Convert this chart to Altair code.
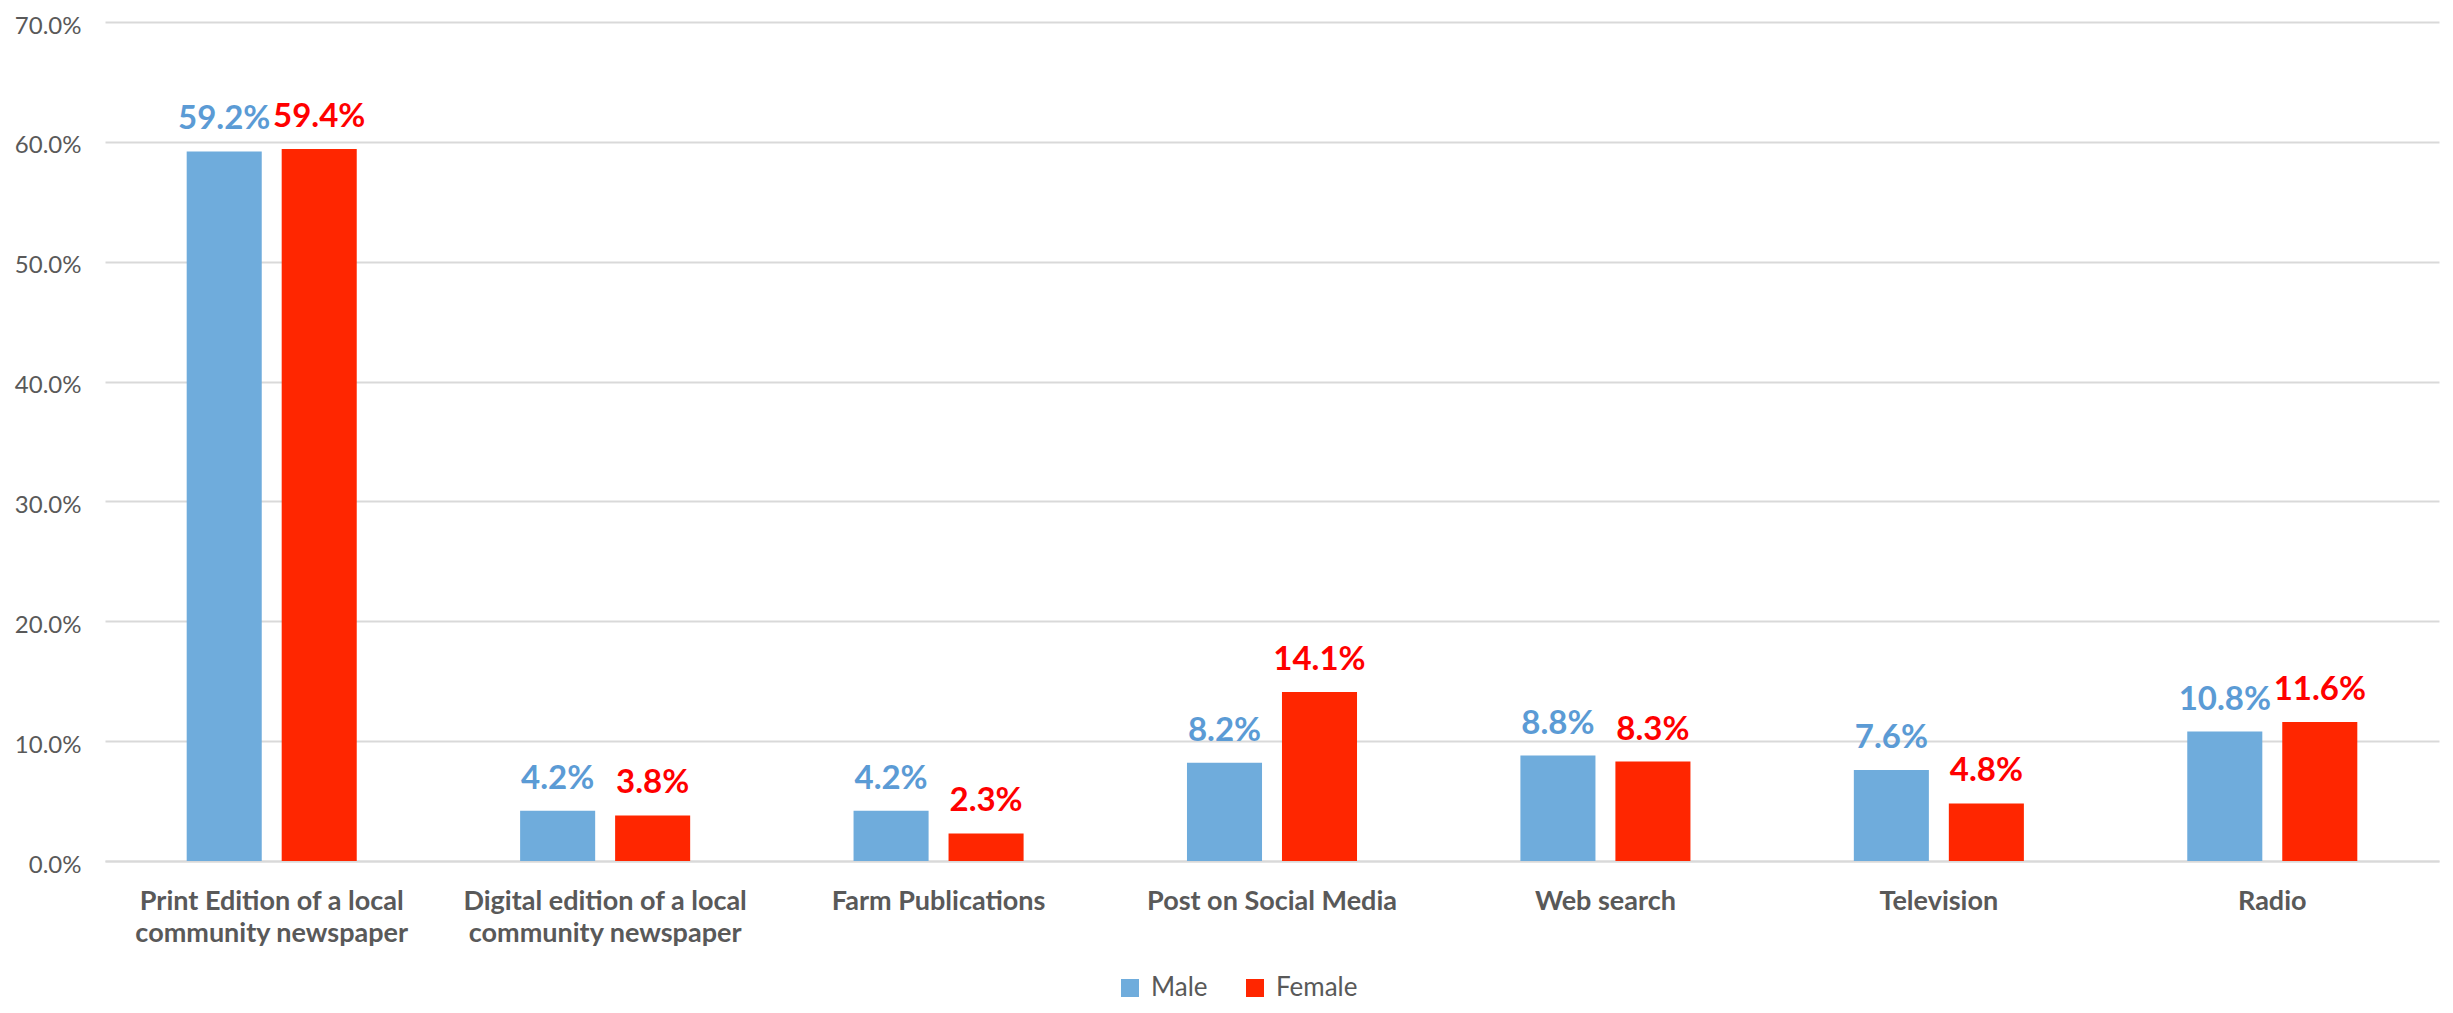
import altair as alt
import pandas as pd

categories = [
    "Print Edition of a local|community newspaper",
    "Digital edition of a local|community newspaper",
    "Farm Publications",
    "Post on Social Media",
    "Web search",
    "Television",
    "Radio",
]
male = [59.2, 4.2, 4.2, 8.2, 8.8, 7.6, 10.8]
female = [59.4, 3.8, 2.3, 14.1, 8.3, 4.8, 11.6]
genders = ["Male", "Female"]
y_ticks = [0, 0.1, 0.2, 0.3, 0.4, 0.5, 0.6, 0.7]

rows = []
for c, m, f in zip(categories, male, female):
    rows.append({"category": c, "gender": "Male", "value": m / 100})
    rows.append({"category": c, "gender": "Female", "value": f / 100})
df = pd.DataFrame(rows)

FONT = "Lato"
GRAY = "#595959"

x_enc = alt.X(
    "category:N",
    sort=categories,
    scale=alt.Scale(paddingInner=0.49, paddingOuter=0.245),
    axis=alt.Axis(
        title=None,
        labelExpr="split(datum.label, '|')",
        labelAngle=0,
        labelFont=FONT,
        labelFontSize=27,
        labelFontWeight="bold",
        labelColor=GRAY,
        labelLineHeight=32,
        labelPadding=27,
        ticks=False,
        domainColor="#D9D9D9",
        domainWidth=2,
        labelLimit=400,
    ),
)
xoff = alt.XOffset(
    "gender:N", sort=genders, scale=alt.Scale(paddingInner=0.21, paddingOuter=0)
)
y_enc = alt.Y(
    "value:Q",
    scale=alt.Scale(domain=[0, 0.7], nice=False),
    axis=alt.Axis(
        title=None,
        values=y_ticks,
        format=".1%",
        labelFont=FONT,
        labelFontSize=24,
        labelColor=GRAY,
        labelPadding=24,
        labelOffset=4,
        ticks=False,
        domain=False,
        gridColor="#D9D9D9",
        gridWidth=2,
    ),
)

bars = alt.Chart(df).mark_bar().encode(
    x=x_enc,
    xOffset=xoff,
    y=y_enc,
    color=alt.Color(
        "gender:N",
        sort=genders,
        scale=alt.Scale(domain=genders, range=["#6FACDC", "#FF2600"]),
        legend=alt.Legend(
            title=None,
            orient="none",
            legendX=1012,
            legendY=953,
            direction="horizontal",
            symbolType="square",
            symbolSize=324,
            symbolStrokeWidth=0,
            labelFont=FONT,
            labelFontSize=26,
            labelColor=GRAY,
            labelOffset=8,
            columnPadding=34,
        ),
    ),
)

labels = alt.Chart(df).mark_text(
    baseline="alphabetic", dy=-22, font=FONT, fontSize=33, fontWeight="bold"
).encode(
    x=alt.X("category:N", sort=categories),
    xOffset=alt.XOffset("gender:N", sort=genders),
    y=alt.Y("value:Q"),
    text=alt.Text("value:Q", format=".1%"),
    color=alt.condition(
        alt.datum.gender == "Male", alt.value("#5B9BD5"), alt.value("#FF0000")
    ),
)

chart = (
    alt.layer(bars, labels)
    .properties(
        width=2334,
        height=839,
        autosize=alt.AutoSizeParams(type="none"),
        padding={"left": 97, "top": 14, "right": 4, "bottom": 144},
    )
    .configure_view(stroke=None)
)

chart.save("out.html", embed_options={"renderer": "svg", "actions": False})
